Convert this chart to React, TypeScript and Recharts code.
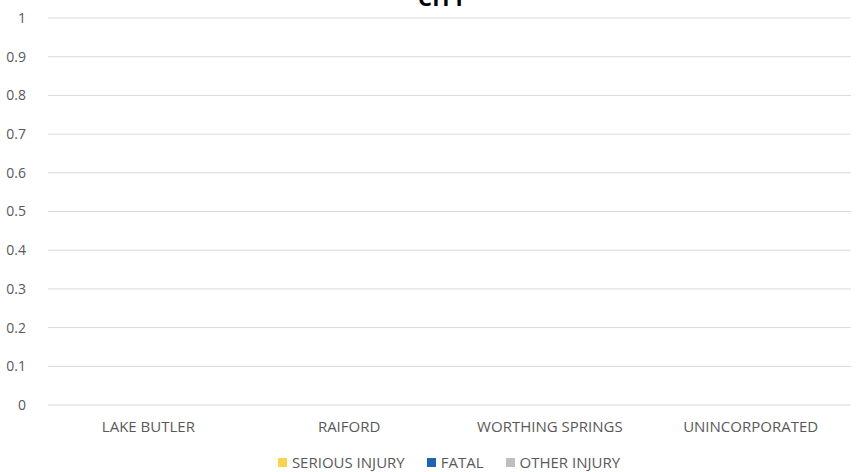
import React from "react";
import { BarChart, Bar, XAxis, YAxis, CartesianGrid, Legend } from "recharts";

const categories = ["LAKE BUTLER", "RAIFORD", "WORTHING SPRINGS", "UNINCORPORATED"];
const seriousInjury = [0, 0, 0, 0];
const fatal = [0, 0, 0, 0];
const otherInjury = [0, 0, 0, 0];
const yTicks = [0, 0.1, 0.2, 0.3, 0.4, 0.5, 0.6, 0.7, 0.8, 0.9, 1];

const seriesDefs = [
  { key: "serious", name: "SERIOUS INJURY", color: "#FFD24D" },
  { key: "fatal", name: "FATAL", color: "#1F64B0" },
  { key: "other", name: "OTHER INJURY", color: "#BFBFBF" },
];

const data = categories.map((c, i) => ({
  name: c,
  serious: seriousInjury[i],
  fatal: fatal[i],
  other: otherInjury[i],
}));

const FONT = "'Open Sans', 'Liberation Sans', sans-serif";

const renderLegend = () => (
  <div
    style={{
      display: "flex",
      justifyContent: "center",
      alignItems: "center",
      fontFamily: FONT,
      fontSize: 15,
      lineHeight: "16px",
      color: "#595959",
      marginLeft: 47,
    }}
  >
    {seriesDefs.map((s, i) => (
      <div
        key={s.key}
        style={{ display: "flex", alignItems: "center", marginRight: i < seriesDefs.length - 1 ? 22 : 0 }}
      >
        <span style={{ display: "inline-block", width: 9, height: 9, background: s.color, marginRight: 5 }} />
        <span>{s.name}</span>
      </div>
    ))}
  </div>
);

export default function App() {
  return (
    <div style={{ position: "absolute", left: 0, top: 0, width: 864, height: 472, background: "#fff", overflow: "hidden" }}>
      <div
        style={{
          position: "absolute",
          left: 442 - 100,
          width: 200,
          top: -18,
          textAlign: "center",
          fontFamily: FONT,
          fontWeight: 700,
          fontSize: 22,
          color: "#000",
        }}
      >
        CITY
      </div>
      <BarChart
        width={864}
        height={472}
        data={data}
        margin={{ top: 18, right: 13, bottom: 0, left: 0 }}
        barCategoryGap="20%"
      >
        <CartesianGrid vertical={false} stroke="#D9D9D9" strokeWidth={1} />
        <XAxis
          dataKey="name"
          axisLine={false}
          tickLine={false}
          height={49}
          tickMargin={10}
          tick={{ fill: "#595959", fontSize: 15, fontFamily: FONT }}
        />
        <YAxis
          width={48}
          domain={[0, 1]}
          ticks={yTicks}
          axisLine={false}
          tickLine={false}
          tickMargin={16}
          tick={{ fill: "#595959", fontSize: 14, fontFamily: FONT }}
        />
        <Legend verticalAlign="bottom" height={18} content={renderLegend} />
        {seriesDefs.map((s) => (
          <Bar key={s.key} dataKey={s.key} name={s.name} fill={s.color} isAnimationActive={false} />
        ))}
      </BarChart>
    </div>
  );
}
